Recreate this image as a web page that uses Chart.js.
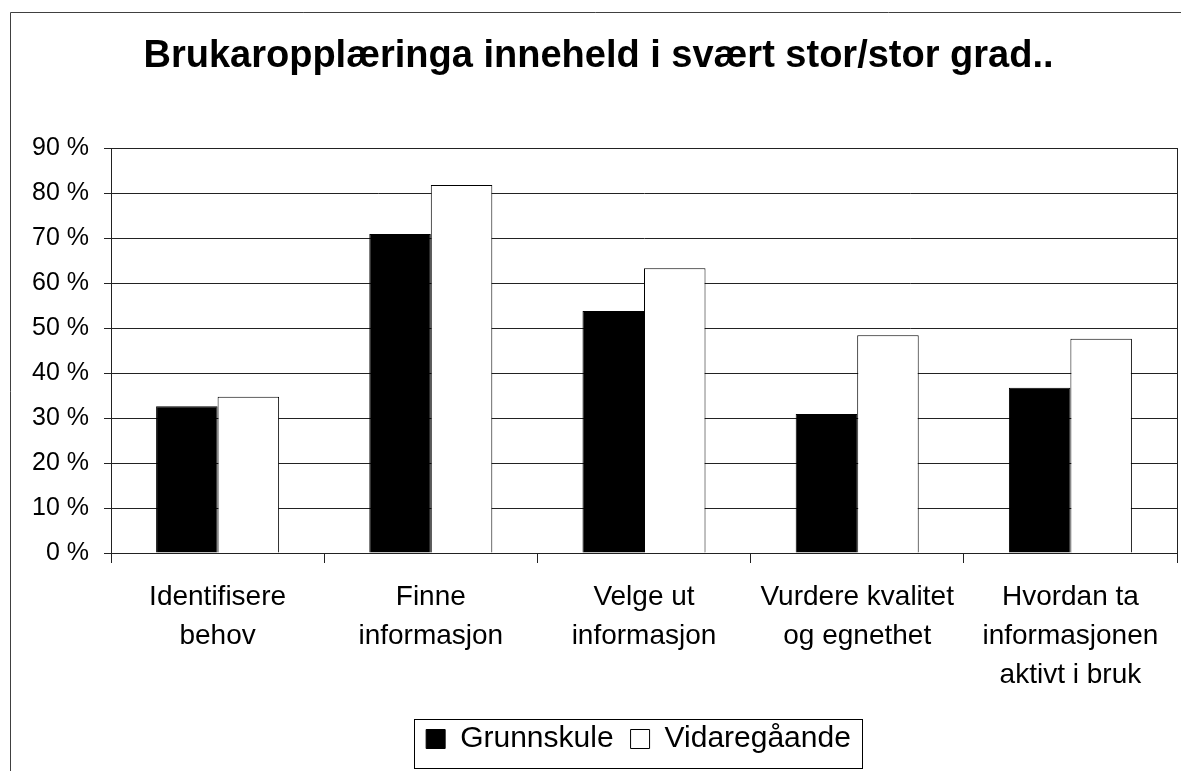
<!DOCTYPE html>
<html>
<head>
<meta charset="utf-8">
<script src="https://cdn.jsdelivr.net/npm/chart.js@4"></script>
<style>
  html, body { margin: 0; padding: 0; background: #fff; }
  #wrap { width: 1181px; height: 771px; }
</style>
</head>
<body>
<div id="wrap"><canvas id="chart"></canvas></div>
<script>
// Data
const categories = [
  ['Identifisere', 'behov'],
  ['Finne', 'informasjon'],
  ['Velge ut', 'informasjon'],
  ['Vurdere kvalitet', 'og egnethet'],
  ['Hvordan ta', 'informasjonen', 'aktivt i bruk']
];
const grunnskule = [32.6, 70.9, 53.8, 30.9, 36.7];
const vidaregaande = [34.7, 81.8, 63.3, 48.4, 47.6];
const yTicks = [0, 10, 20, 30, 40, 50, 60, 70, 80, 90];

const FONT = "'Liberation Sans', Arial, sans-serif";

// ramme rundt diagrammet, plottområdet og forklaringa
const framePlugin = {
  id: 'frames',
  afterLayout(chart) {
    // forklaringa står litt til høgre for midten i originalen
    chart.legend.left += 40;
    chart.legend.right += 40;
  },
  afterDraw(chart) {
    const ctx = chart.ctx;
    const a = chart.chartArea;
    ctx.save();
    ctx.lineWidth = 1;
    ctx.strokeStyle = '#404040';
    ctx.beginPath();
    ctx.moveTo(10.5, chart.height);
    ctx.lineTo(10.5, 12.5);
    ctx.lineTo(chart.width, 12.5);
    ctx.stroke();

    ctx.strokeStyle = '#222';
    ctx.strokeRect(Math.round(a.left) + 0.5, Math.round(a.top) + 0.5,
      Math.round(a.right - a.left), Math.round(a.bottom - a.top));

    const boxes = chart.legend.legendHitBoxes;
    if (boxes && boxes.length) {
      const first = boxes[0];
      const last = boxes[boxes.length - 1];
      const x0 = Math.round(first.left - 12) + 0.5;
      const x1 = Math.round(last.left + last.width + 11) + 0.5;
      const y0 = Math.round(first.top - 5) + 0.5;
      const y1 = Math.round(first.top + first.height + 14) + 0.5;
      ctx.strokeStyle = '#000';
      ctx.strokeRect(x0, y0, x1 - x0, y1 - y0);
    }
    ctx.restore();
  }
};

new Chart(document.getElementById('chart'), {
  type: 'bar',
  data: {
    labels: categories,
    datasets: [
      {
        label: 'Grunnskule',
        data: grunnskule,
        backgroundColor: '#000',
        borderColor: '#000',
        borderWidth: 1
      },
      {
        label: 'Vidaregåande',
        data: vidaregaande,
        backgroundColor: '#fff',
        borderColor: '#000',
        borderWidth: 1
      }
    ]
  },
  options: {
    responsive: true,
    maintainAspectRatio: false,
    animation: false,
    layout: { padding: { left: 20, right: 4, top: 0, bottom: 7 } },
    datasets: { bar: { categoryPercentage: 0.577, barPercentage: 1 } },
    plugins: {
      title: {
        display: true,
        text: 'Brukaropplæringa inneheld i svært stor/stor grad..',
        color: '#000',
        font: { family: FONT, size: 38, weight: 'bold', lineHeight: 1.2 },
        padding: { top: 34.2, bottom: 68.2 }
      },
      legend: {
        position: 'bottom',
        labels: {
          color: '#000',
          font: { family: FONT, size: 30 },
          boxWidth: 19,
          boxHeight: 19,
          padding: 17
        }
      },
      tooltip: { enabled: false }
    },
    scales: {
      x: {
        afterFit(scale) { scale.height = 154; },
        grid: {
          offset: true,
          drawOnChartArea: false,
          drawTicks: true,
          tickLength: 10,
          color: '#222'
        },
        border: { display: true, color: '#222' },
        ticks: {
          color: '#000',
          padding: 14.5,
          maxRotation: 0,
          autoSkip: false,
          font: { family: FONT, size: 28, lineHeight: 1.4 }
        }
      },
      y: {
        min: 0,
        max: 90,
        afterFit(scale) { scale.width = 91; },
        afterBuildTicks(scale) { scale.ticks = yTicks.map(v => ({ value: v })); },
        grid: { color: '#222', tickLength: 7, drawTicks: true },
        border: { display: true, color: '#222' },
        ticks: {
          color: '#000',
          padding: 15,
          font: { family: FONT, size: 25 },
          callback: v => v + ' %'
        }
      }
    }
  },
  plugins: [framePlugin]
});
</script>
</body>
</html>
